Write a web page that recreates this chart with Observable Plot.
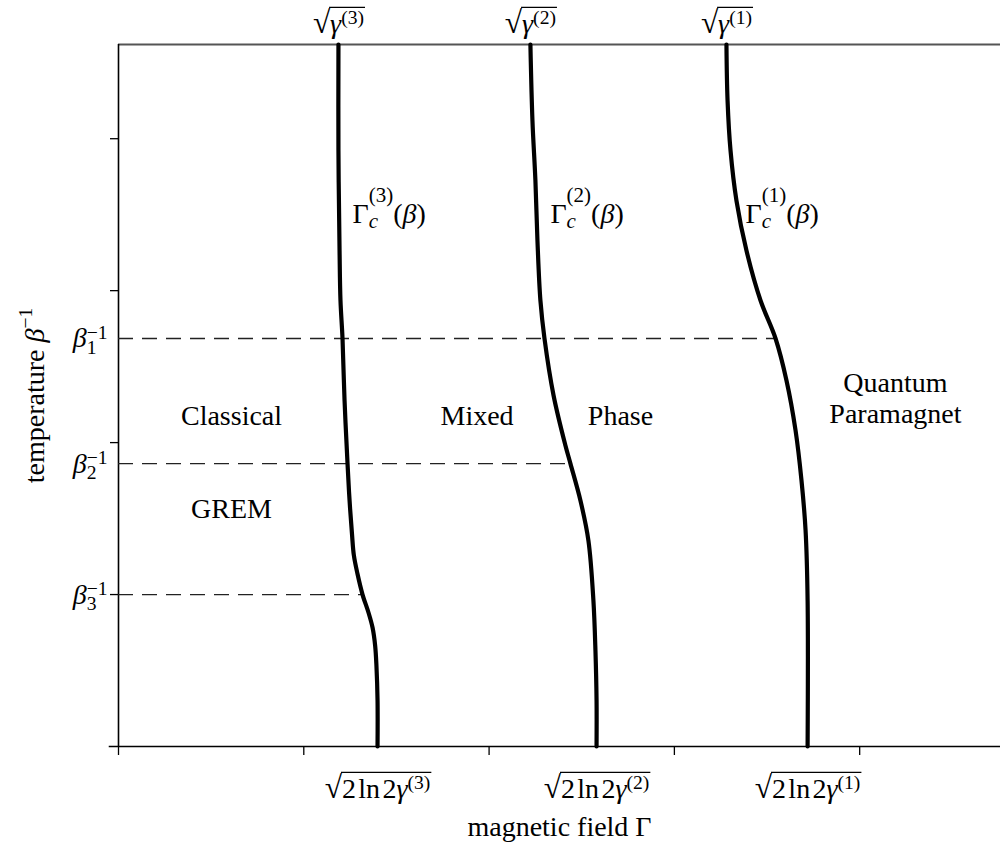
<!DOCTYPE html>
<html><head><meta charset="utf-8">
<script src="https://cdn.jsdelivr.net/npm/d3@7"></script>
<script src="https://cdn.jsdelivr.net/npm/@observablehq/plot@0.6"></script>
<style>
body{margin:0;background:#fff;}
#chart svg{display:block;}
</style></head><body><div id="chart"></div>
<script>
// ---- scales ----
const xDomain = [0, 4.76];
const yDomain = [0, 4.62];
const xTicks = [0, 1, 2, 3, 4];
const yTicks = [1, 2, 3, 4];

// ---- phase boundaries Γc^(n)(β): [field Γ, temperature β^-1] ----
const curve3 = [[1.187,4.620],[1.187,3.922],[1.193,3.264],[1.198,2.935],[1.209,2.685],[1.220,2.277],[1.236,1.862],[1.247,1.619],[1.260,1.400],[1.270,1.260],[1.290,1.135],[1.317,1.000],[1.349,0.882],[1.371,0.783],[1.385,0.665],[1.392,0.533],[1.398,0.303],[1.398,0]];
const curve2 = [[2.223,4.620],[2.234,4.120],[2.250,3.725],[2.261,3.330],[2.277,2.935],[2.299,2.685],[2.348,2.310],[2.412,1.981],[2.439,1.862],[2.493,1.619],[2.536,1.356],[2.563,0.961],[2.574,0.632],[2.580,0.303],[2.580,0]];
const curve1 = [[3.281,4.620],[3.287,4.251],[3.303,3.922],[3.335,3.593],[3.389,3.264],[3.465,2.935],[3.546,2.685],[3.605,2.409],[3.654,2.080],[3.686,1.751],[3.708,1.422],[3.719,0.961],[3.719,0]];

// ---- critical temperatures β_n^-1 and where the dashed guides end ----
const betaIndex = [1, 2, 3];
const betaLevels = [2.685, 1.862, 1.000];
const betaEnds = [3.546, 2.439, 1.317];

// ---- curve labels ----
const gammaIndex = [3, 2, 1];
const gammaTop = [1.187, 2.223, 3.281];     // √γ^(n)
const gammaBottom = [1.398, 2.580, 3.719];  // √(2 ln2 γ^(n))
const curveLabelX = [1.263, 2.331, 3.384];
const curveLabelY = [3.442, 3.442, 3.442];

// ---- region labels ----
const regionNames = ["Classical", "GREM", "Mixed", "Phase", "Quantum", "Paramagnet"];
const regionX = [0.610, 0.610, 1.935, 2.709, 4.193, 4.193];
const regionY = [2.113, 1.507, 2.119, 2.119, 2.330, 2.126];

const xTitle = "magnetic field Γ";
const yTitle = "temperature β−1";

const curves = [
  ...curve3.map(d => ({x: d[0], y: d[1], k: 3})),
  ...curve2.map(d => ({x: d[0], y: d[1], k: 2})),
  ...curve1.map(d => ({x: d[0], y: d[1], k: 1}))
];

const chart = Plot.plot({
  width: 1000, height: 845,
  marginLeft: 118, marginRight: 0, marginTop: 44, marginBottom: 99,
  x: {domain: xDomain},
  y: {domain: yDomain},
  style: {fontFamily: "'Liberation Serif','Times New Roman',serif", fontSize: "28px", background: "#fff", color: "#000"},
  marks: [
    Plot.axisX(xTicks, {tickSize: 9, tickFormat: () => "", label: null, strokeWidth: 1.3}),
    Plot.axisY(yTicks, {tickSize: 8, tickFormat: () => "", label: null, strokeWidth: 1.3}),
    Plot.ruleY([yDomain[0]], {x1: -0.05, x2: xDomain[1], stroke: "#000", strokeWidth: 1.6}),
    Plot.ruleY([yDomain[1]], {stroke: "#555", strokeWidth: 2}),
    Plot.ruleX([xDomain[0]], {stroke: "#000", strokeWidth: 1.6}),
    Plot.ruleY(betaLevels, {x1: 0, x2: (d, i) => betaEnds[i], stroke: "#222", strokeWidth: 1.3, strokeDasharray: "15,9"}),
    Plot.line(curves, {x: "x", y: "y", z: "k", curve: "catmull-rom", stroke: "#000", strokeWidth: 4.2}),
    Plot.text(gammaIndex, {x: (d, i) => gammaTop[i], y: yDomain[1], text: n => `√γ(${n})`, dy: -12, lineAnchor: "bottom"}),
    Plot.text(gammaIndex, {x: (d, i) => gammaBottom[i], y: 0, text: n => `√2ln2γ(${n})`, dy: 51, lineAnchor: "bottom"}),
    Plot.text(gammaIndex, {x: (d, i) => curveLabelX[i], y: (d, i) => curveLabelY[i], text: n => `Γc(${n})(β)`, textAnchor: "start", lineAnchor: "bottom"}),
    Plot.text(betaIndex, {x: 0, y: (d, i) => betaLevels[i], text: n => `β${n}−1`, dx: -11, textAnchor: "end", lineAnchor: "middle"}),
    Plot.text(regionNames, {x: (d, i) => regionX[i], y: (d, i) => regionY[i], text: d => d, lineAnchor: "bottom"}),
    Plot.text([xTitle], {frameAnchor: "bottom", dy: 89, lineAnchor: "bottom"}),
    Plot.text([yTitle], {frameAnchor: "left", dx: -75, rotate: -90, textAnchor: "middle", lineAnchor: "bottom"})
  ]
});
document.getElementById("chart").appendChild(chart);

// ---- rich math typesetting of labels (sub/superscripts, radicals) ----
const SVGNS = "http://www.w3.org/2000/svg";
const seg = (t, o = {}) => ({t, ...o});
const rich = new Map();
gammaIndex.forEach(n => {
  rich.set(`√γ(${n})`, {radical: true, sup: 0.32, segs: [seg("γ", {it: 1}), seg(`(${n})`, {sup: 1})]});
  rich.set(`√2ln2γ(${n})`, {radical: true, sup: 0.32, segs: [seg("2\u200Aln\u200A2"), seg("γ", {it: 1}), seg(`(${n})`, {sup: 1})]});
  rich.set(`Γc(${n})(β)`, {sub: 0.15, sup: 0.78, small: 0.75, segs: [seg("Γ"), seg("c", {it: 1, sub: 1}), seg(`(${n})`, {sup: 1, stack: 1}), seg("("), seg("β", {it: 1}), seg(")")]});
});
betaIndex.forEach(n => {
  rich.set(`β${n}−1`, {sub: 0.24, sup: 0.32, segs: [seg("β", {it: 1}), seg(`${n}`, {sub: 1}), seg("−1", {sup: 1, stack: 1})]});
});
rich.set(yTitle, {sup: 0.4, segs: [seg("temperature "), seg("β", {it: 1}), seg("−1", {sup: 1})]});

d3.select(chart).selectAll("text").each(function () {
  const spec = rich.get(this.textContent);
  if (!spec) return;
  const text = this;
  const fs = parseFloat(getComputedStyle(text).fontSize);
  const small = fs * (spec.small ?? 0.7), subDy = fs * (spec.sub ?? 0.24), supDy = fs * (spec.sup ?? 0.42);
  while (text.firstChild) text.removeChild(text.firstChild);
  if (spec.radical) {
    const r = document.createElementNS(SVGNS, "tspan");
    r.textContent = "√";
    r.setAttribute("font-size", fs * 1.12);
    text.appendChild(r);
  }
  let shift = 0, lastSub = 0;
  for (const s of spec.segs) {
    const ts = document.createElementNS(SVGNS, "tspan");
    ts.textContent = s.t;
    if (s.it) ts.setAttribute("font-style", "italic");
    let target = 0;
    ts.setAttribute("font-size", (s.sub || s.sup) ? small : fs);
    if (s.sub) target = subDy;
    else if (s.sup) target = -supDy;
    const dy = target - shift;
    if (dy) ts.setAttribute("dy", dy);
    if (s.stack) ts.setAttribute("dx", -lastSub);
    shift = target;
    text.appendChild(ts);
    if (s.sub) lastSub = ts.getComputedTextLength();
  }
  if (spec.radical) {
    const n = text.getNumberOfChars();
    const p0 = text.getEndPositionOfChar(0);
    const p1 = text.getEndPositionOfChar(n - 1);
    const base = text.getStartPositionOfChar(0).y;
    const yv = base - fs * 0.9;
    const line = document.createElementNS(SVGNS, "line");
    line.setAttribute("x1", p0.x - 1);
    line.setAttribute("x2", p1.x + 1);
    line.setAttribute("y1", yv);
    line.setAttribute("y2", yv);
    line.setAttribute("stroke", "#000");
    line.setAttribute("stroke-width", 1.2);
    const tr = text.getAttribute("transform");
    if (tr) line.setAttribute("transform", tr);
    text.parentNode.appendChild(line);
  }
});
</script>
</body></html>
